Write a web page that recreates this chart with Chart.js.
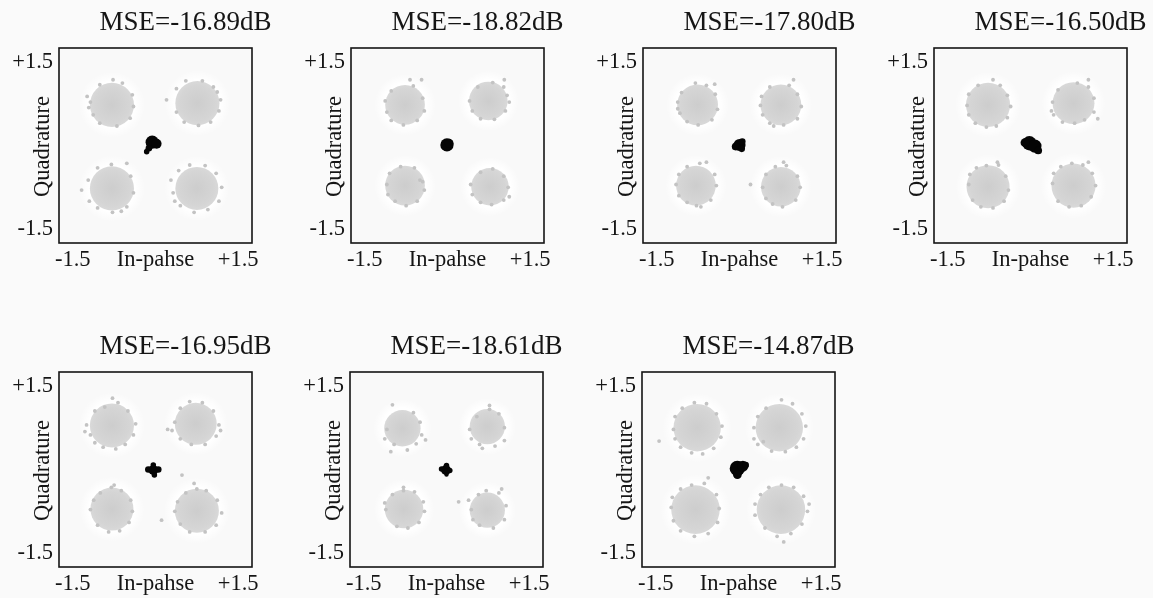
<!DOCTYPE html>
<html>
<head>
<meta charset="utf-8">
<title>QPSK constellations</title>
<script src="https://cdn.jsdelivr.net/npm/chart.js@4.4.1/dist/chart.umd.min.js"></script>
<style>
  html, body { margin: 0; padding: 0; background: #fafafa; }
  body { position: relative; width: 1153px; height: 598px; overflow: hidden; }
  .panel { position: absolute; width: 292px; height: 290px; }
</style>
</head>
<body>
<div class="panel" style="left:0px;top:0px"><canvas id="c1"></canvas></div>
<div class="panel" style="left:292px;top:0px"><canvas id="c2"></canvas></div>
<div class="panel" style="left:584px;top:0px"><canvas id="c3"></canvas></div>
<div class="panel" style="left:875px;top:0px"><canvas id="c4"></canvas></div>
<div class="panel" style="left:0px;top:324px"><canvas id="c5"></canvas></div>
<div class="panel" style="left:291px;top:324px"><canvas id="c6"></canvas></div>
<div class="panel" style="left:583px;top:324px"><canvas id="c7"></canvas></div>
<script>
const mseValues = [-16.89, -18.82, -17.80, -16.50, -16.95, -18.61, -14.87];

const xTickValues = [-1.5, 0, 1.5];
const xTickLabels = ['-1.5', 'In-pahse', '+1.5'];
const yTickValues = [-1.5, 1.5];
const yTickLabels = ['-1.5', '+1.5'];

// received symbol clouds: centre I, centre Q, spread of the dense core
const clusters = [
  [[-0.79, 0.73, 0.40], [0.76, 0.76, 0.40], [-0.79, -0.77, 0.40], [0.75, -0.77, 0.39]],
  [[-0.77, 0.73, 0.36], [0.74, 0.80, 0.35], [-0.77, -0.72, 0.36], [0.77, -0.74, 0.34]],
  [[-0.76, 0.73, 0.37], [0.75, 0.73, 0.37], [-0.79, -0.72, 0.36], [0.75, -0.74, 0.36]],
  [[-0.77, 0.73, 0.40], [0.78, 0.76, 0.38], [-0.77, -0.74, 0.39], [0.78, -0.72, 0.40]],
  [[-0.79, 0.79, 0.40], [0.73, 0.82, 0.38], [-0.79, -0.71, 0.39], [0.75, -0.74, 0.40]],
  [[-0.80, 0.74, 0.33], [0.74, 0.77, 0.32], [-0.77, -0.71, 0.35], [0.74, -0.73, 0.32]],
  [[-0.75, 0.75, 0.43], [0.74, 0.75, 0.43], [-0.78, -0.72, 0.44], [0.77, -0.72, 0.44]]
];

// stray symbols around the edge of each cloud
const strays = [
  [[-1.24, 0.88], [-1.21, 0.68], [-1.13, 0.55], [-1.01, 0.40], [-0.70, 0.35], [-0.46, 0.49], [-0.40, 0.70], [-0.42, 0.91], [-0.77, 1.18], [-1.01, 1.09], [-0.60, 1.12], [-1.18, 0.78],
   [0.20, 0.82], [0.38, 1.02], [0.55, 1.16], [0.85, 1.16], [1.05, 1.05], [1.18, 0.82], [1.15, 0.62], [1.00, 0.42], [0.78, 0.36], [0.52, 0.42], [0.38, 0.60], [1.12, 0.96],
   [-1.34, -0.80], [-1.22, -0.62], [-1.05, -0.40], [-0.80, -0.34], [-0.52, -0.32], [-0.45, -0.55], [-0.40, -0.85], [-0.52, -1.10], [-0.78, -1.20], [-1.05, -1.12], [-1.20, -1.00], [-0.62, -1.18],
   [0.28, -0.62], [0.32, -0.85], [0.42, -0.45], [0.62, -0.35], [0.90, -0.36], [1.10, -0.50], [1.20, -0.75], [1.15, -1.00], [0.95, -1.15], [0.70, -1.20], [0.45, -1.08], [0.35, -1.00]],
  [[-1.13, 0.80], [-1.10, 0.60], [-1.02, 0.45], [-0.80, 0.37], [-0.55, 0.45], [-0.42, 0.62], [-0.45, 0.85], [-0.62, 1.07], [-0.68, 1.18], [-0.47, 1.18], [-1.02, 0.98],
   [0.40, 0.80], [0.45, 0.62], [0.60, 0.48], [0.85, 0.47], [1.05, 0.62], [1.12, 0.78], [1.02, 1.05], [0.82, 1.13], [1.03, 1.18], [0.55, 1.05], [1.08, 0.90],
   [-1.10, -0.70], [-1.05, -0.50], [-0.85, -0.38], [-0.60, -0.40], [-0.45, -0.65], [-0.42, -0.80], [-0.55, -1.00], [-0.75, -1.08], [-0.95, -1.00], [-1.08, -0.88], [-0.50, -0.62],
   [0.42, -0.70], [0.45, -0.88], [0.60, -0.48], [0.82, -0.42], [1.02, -0.55], [1.10, -0.75], [1.02, -0.98], [0.80, -1.06], [0.60, -1.02], [1.12, -0.92]],
  [[-1.12, 0.78], [-1.08, 0.58], [-0.95, 0.43], [-0.75, 0.37], [-0.50, 0.46], [-0.40, 0.65], [-0.44, 0.92], [-0.60, 1.08], [-0.80, 1.12], [-0.45, 1.10], [-1.05, 0.95], [-1.12, 0.66],
   [0.38, 0.72], [0.42, 0.55], [0.55, 0.40], [0.62, 0.35], [0.80, 0.37], [1.05, 0.48], [1.12, 0.70], [1.05, 0.92], [0.90, 1.08], [0.98, 1.18], [0.55, 1.05], [0.40, 0.88],
   [-1.15, -0.70], [-1.10, -0.52], [-0.95, -0.38], [-0.72, -0.32], [-0.60, -0.30], [-0.45, -0.52], [-0.42, -0.72], [-0.52, -0.98], [-0.78, -1.08], [-0.95, -1.02], [-1.10, -0.90], [-0.70, -1.10],
   [0.20, -0.70], [0.42, -0.75], [0.48, -0.52], [0.65, -0.38], [0.85, -0.36], [0.80, -0.30], [1.05, -0.55], [1.10, -0.75], [1.02, -0.98], [0.78, -1.10], [0.60, -1.05], [0.48, -0.95]],
  [[-1.15, 0.72], [-1.12, 0.55], [-1.00, 0.40], [-0.80, 0.33], [-0.62, 0.35], [-0.42, 0.50], [-0.36, 0.70], [-0.42, 0.90], [-0.55, 1.08], [-0.68, 1.18], [-0.95, 1.08], [-1.12, 0.92],
   [0.40, 0.78], [0.42, 0.55], [0.38, 0.62], [0.58, 0.42], [0.80, 0.40], [0.98, 0.46], [1.15, 0.60], [1.15, 0.85], [1.05, 1.05], [0.85, 1.12], [1.05, 1.18], [0.50, 1.00], [1.22, 0.48],
   [-1.12, -0.70], [-1.10, -0.52], [-0.98, -0.40], [-0.80, -0.36], [-0.58, -0.35], [-0.45, -0.55], [-0.40, -0.80], [-0.48, -1.00], [-0.68, -1.12], [-0.90, -1.10], [-1.05, -0.98], [-0.60, -0.30],
   [0.40, -0.68], [0.42, -0.50], [0.55, -0.38], [0.75, -0.32], [0.95, -0.35], [1.12, -0.50], [1.18, -0.72], [1.10, -0.92], [0.92, -1.08], [0.70, -1.10], [0.50, -1.00], [1.05, -0.30]],
  [[-1.25, 0.80], [-1.18, 0.62], [-1.10, 0.48], [-0.95, 0.40], [-0.72, 0.37], [-0.55, 0.45], [-0.40, 0.62], [-0.36, 0.82], [-0.50, 1.05], [-0.68, 1.20], [-0.92, 1.12], [-1.10, 1.05], [-0.78, 1.28], [-1.28, 0.68],
   [0.22, 0.72], [0.30, 0.70], [0.35, 0.85], [0.45, 0.55], [0.65, 0.45], [0.90, 0.45], [1.10, 0.60], [1.15, 0.80], [1.05, 1.05], [0.85, 1.20], [0.62, 1.22], [0.45, 1.10], [1.18, 0.70],
   [-1.18, -0.72], [-1.12, -0.55], [-1.00, -0.42], [-0.80, -0.32], [-0.62, -0.38], [-0.45, -0.55], [-0.42, -0.75], [-0.48, -0.95], [-0.65, -1.10], [-0.85, -1.12], [-1.05, -1.00], [-0.75, -0.28],
   [0.11, -0.91], [0.48, -0.10], [0.35, -0.75], [0.40, -0.58], [0.55, -0.42], [0.75, -0.35], [0.92, -0.38], [1.12, -0.55], [1.20, -0.78], [1.10, -1.00], [0.90, -1.12], [0.62, -1.12], [0.45, -0.98], [0.70, -0.25]],
  [[-0.98, 1.16], [-1.12, 0.55], [-1.08, 0.72], [-1.01, 0.32], [-0.71, 0.35], [-0.38, 0.53], [-0.45, 0.62], [-0.48, 0.85], [-0.60, 1.02], [-0.95, 0.45], [-0.55, 0.46],
   [0.42, 0.72], [0.45, 0.55], [0.60, 0.45], [0.65, 0.38], [0.88, 0.42], [1.05, 0.52], [1.05, 0.75], [0.95, 1.00], [0.78, 1.08], [0.78, 1.15], [0.55, 0.95],
   [-1.10, -0.72], [-1.12, -0.60], [-0.98, -0.45], [-0.78, -0.38], [-0.58, -0.40], [-0.42, -0.58], [-0.40, -0.75], [-0.50, -0.95], [-0.70, -1.05], [-0.90, -1.02], [-0.78, -0.32],
   [0.22, -0.58], [0.40, -0.55], [0.45, -0.72], [0.58, -0.45], [0.72, -0.38], [0.95, -0.42], [1.00, -0.35], [1.08, -0.65], [1.05, -0.90], [0.85, -1.05], [0.60, -1.00], [0.48, -0.90]],
  [[-1.44, 0.51], [-1.18, 0.72], [-1.15, 0.55], [-1.05, 0.40], [-0.85, 0.30], [-0.65, 0.28], [-0.45, 0.38], [-0.32, 0.58], [-0.30, 0.78], [-0.40, 1.00], [-0.58, 1.18], [-0.80, 1.20], [-1.02, 1.10], [-1.15, 0.95],
   [0.28, 0.75], [0.28, 0.55], [0.35, 0.45], [0.45, 0.50], [0.60, 0.33], [0.85, 0.32], [1.05, 0.40], [1.18, 0.55], [1.22, 0.78], [1.15, 1.00], [0.98, 1.18], [0.78, 1.25], [0.50, 1.10], [0.35, 0.95],
   [-1.22, -0.68], [-1.20, -0.50], [-1.05, -0.35], [-0.85, -0.28], [-0.62, -0.25], [-0.55, -0.15], [-0.40, -0.45], [-0.35, -0.70], [-0.38, -0.95], [-0.55, -1.15], [-0.80, -1.20], [-1.05, -1.10], [-1.18, -0.92],
   [0.30, -0.62], [0.30, -0.82], [0.40, -0.45], [0.55, -0.32], [0.78, -0.28], [1.00, -0.32], [1.18, -0.48], [1.25, -0.75], [1.28, -0.62], [1.15, -0.98], [0.95, -1.15], [0.70, -1.20], [0.48, -1.05], [0.82, -1.30]]
];

// equalised output near the origin: I, Q, extent
const blobs = [
  [[-0.06, 0.06, 0.12], [0.02, 0.03, 0.09], [-0.12, -0.05, 0.06], [-0.16, -0.11, 0.05]],
  [[-0.01, 0.01, 0.12], [0.03, 0.04, 0.08]],
  [[0.00, 0.01, 0.11], [-0.07, -0.02, 0.07], [0.05, 0.07, 0.06], [0.04, -0.06, 0.06]],
  [[-0.02, 0.04, 0.13], [0.08, -0.01, 0.12], [0.14, -0.09, 0.07], [-0.10, 0.05, 0.08]],
  [[-0.04, -0.01, 0.09], [-0.13, 0.00, 0.06], [0.05, 0.00, 0.06], [-0.04, 0.08, 0.05], [-0.02, -0.10, 0.05]],
  [[-0.01, -0.01, 0.09], [-0.09, 0.01, 0.05], [0.06, -0.02, 0.05], [0.00, 0.07, 0.05], [0.00, -0.09, 0.04]],
  [[-0.02, 0.02, 0.14], [0.08, 0.06, 0.10], [0.13, 0.08, 0.06], [-0.02, -0.09, 0.08]]
];

const serif = '"Liberation Serif", "Times New Roman", serif';

function unitPx(chart) {
  const s = chart.scales.x;
  return Math.abs(s.getPixelForValue(1) - s.getPixelForValue(0));
}

function radiusOf(ctx) {
  return ctx.raw ? ctx.raw.r * unitPx(ctx.chart) : 0;
}

function radialFill(stops) {
  return ctx => {
    const chart = ctx.chart;
    const p = ctx.raw;
    if (!p || !chart.chartArea) return stops[0][1];
    const x = chart.scales.x.getPixelForValue(p.x);
    const y = chart.scales.y.getPixelForValue(p.y);
    const r = p.r * unitPx(chart);
    const g = chart.ctx.createRadialGradient(x, y, 0, x, y, r);
    stops.forEach(s => g.addColorStop(s[0], s[1]));
    return g;
  };
}

const cloudFill = radialFill([[0, '#cdcdcd'], [0.8, '#d5d5d5'], [1, '#d9d9d9']]);
const haloFill = radialFill([[0, '#ffffff'], [0.7, '#ffffff'], [1, 'rgba(255,255,255,0)']]);

// box, title and the rotated quadrature label
const framePlugin = {
  id: 'frame',
  beforeDatasetsDraw(chart) {
    const { ctx, chartArea: a } = chart;
    ctx.save();
    ctx.fillStyle = '#f9f9f9';
    ctx.fillRect(a.left, a.top, a.width, a.height);
    ctx.restore();
  },
  afterDraw(chart, args, opts) {
    const { ctx, chartArea: a } = chart;
    ctx.save();
    ctx.strokeStyle = '#151515';
    ctx.lineWidth = 1.6;
    ctx.strokeRect(a.left, a.top, a.width, a.height);
    ctx.fillStyle = '#151515';
    ctx.textAlign = 'center';
    ctx.textBaseline = 'middle';
    ctx.font = '27px ' + serif;
    ctx.fillText(opts.title, (a.left + a.right) / 2 + 30, a.top - 25);
    ctx.font = '22.5px ' + serif;
    ctx.translate(a.left - 16, (a.top + a.bottom) / 2 + 1);
    ctx.rotate(-Math.PI / 2);
    ctx.fillText('Quadrature', 0, 0);
    ctx.restore();
  }
};

function makePanel(i) {
  const halo = clusters[i].map(c => ({ x: c[0], y: c[1], r: c[2] + 0.2 }));
  const cores = clusters[i].map(c => ({ x: c[0], y: c[1], r: c[2] }));
  const dots = strays[i].map(p => ({ x: p[0], y: p[1] }));
  const centre = blobs[i].map(b => ({ x: b[0], y: b[1], r: b[2] }));

  return new Chart(document.getElementById('c' + (i + 1)), {
    type: 'scatter',
    data: {
      datasets: [
        { data: centre, order: 0, pointRadius: radiusOf, backgroundColor: '#050505', borderWidth: 0 },
        { data: dots, order: 1, pointRadius: 1.9, backgroundColor: '#c3c3c3', borderWidth: 0 },
        { data: cores, order: 2, pointRadius: radiusOf, backgroundColor: cloudFill, borderWidth: 0 },
        { data: halo, order: 3, pointRadius: radiusOf, backgroundColor: haloFill, borderWidth: 0 }
      ]
    },
    options: {
      responsive: true,
      maintainAspectRatio: false,
      animation: false,
      events: [],
      layout: { padding: { top: 48, right: 40, left: 0, bottom: 0 } },
      plugins: {
        legend: { display: false },
        tooltip: { enabled: false },
        frame: { title: 'MSE=' + mseValues[i].toFixed(2) + 'dB' }
      },
      scales: {
        x: {
          type: 'linear',
          min: -1.75,
          max: 1.75,
          grid: { display: false, drawTicks: false },
          border: { display: false },
          afterBuildTicks: s => { s.ticks = xTickValues.map(v => ({ value: v })); },
          afterFit: s => { s.height = 47; },
          ticks: {
            autoSkip: false,
            maxRotation: 0,
            padding: 4,
            color: '#151515',
            font: { family: serif, size: 22.5 },
            callback: (v, idx) => xTickLabels[idx]
          }
        },
        y: {
          type: 'linear',
          min: -1.75,
          max: 1.75,
          grid: { display: false, drawTicks: false },
          border: { display: false },
          afterBuildTicks: s => { s.ticks = yTickValues.map(v => ({ value: v })); },
          afterFit: s => { s.width = 59; },
          ticks: {
            autoSkip: false,
            padding: 6,
            color: '#151515',
            font: { family: serif, size: 22.5 },
            callback: (v, idx) => yTickLabels[idx]
          }
        }
      }
    },
    plugins: [framePlugin]
  });
}

mseValues.forEach((_, i) => makePanel(i));
</script>
</body>
</html>
